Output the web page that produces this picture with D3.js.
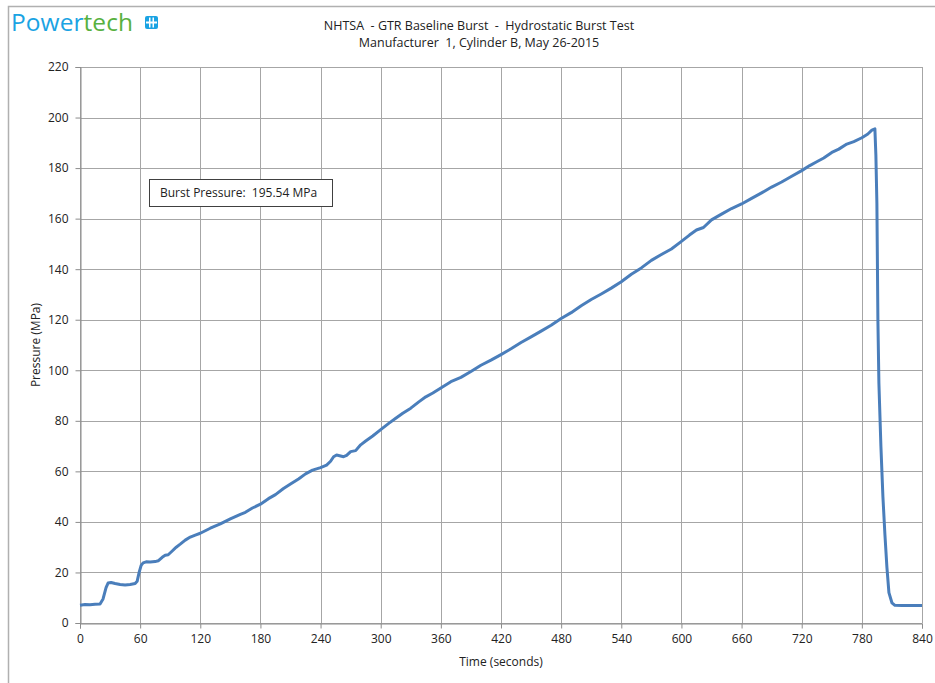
<!DOCTYPE html>
<html><head><meta charset="utf-8">
<script src="https://cdn.jsdelivr.net/npm/d3@7"></script>
<style>body{margin:0;background:#fff}svg{display:block}text{white-space:pre}</style>
</head><body>
<script>
const titleLines = ["NHTSA  - GTR Baseline Burst  -  Hydrostatic Burst Test", "Manufacturer  1, Cylinder B, May 26-2015"];
const xTicks = [0,60,120,180,240,300,360,420,480,540,600,660,720,780,840];
const yTicks = [0,20,40,60,80,100,120,140,160,180,200,220];
const annotation = "Burst Pressure:  195.54 MPa";
const timeS = [0,5,10,15,20,23,26,28,31,35,40,45,50,55,57,59,61,63,66,70,75,78,82,85,88,92,96,100,105,110,115,120,130,140,150,160,165,172,180,188,195,203,210,218,225,232,240,246,250,253,256,259,263,266,270,275,280,285,292,300,308,315,322,330,338,345,352,360,370,380,390,400,410,420,430,440,450,460,470,480,490,500,510,520,530,540,550,560,570,580,590,600,608,615,622,630,640,650,660,670,680,690,700,710,720,728,735,742,750,757,765,772,780,786,790,793,794,795,796,797,799,801,803,805,807,810,813,820,830,840];
const pressure = [7.0,7.3,7.2,7.4,7.5,9.5,14.0,15.8,16.0,15.6,15.2,15.0,15.2,15.6,16.5,20.0,22.8,23.8,24.2,24.1,24.3,24.6,26.0,26.8,27.0,28.5,30.0,31.2,32.8,34.0,34.8,35.5,37.5,39.2,41.2,43.0,43.8,45.5,47.0,49.2,50.8,53.2,55.0,57.0,59.0,60.5,61.5,62.5,64.0,65.8,66.5,66.2,65.8,66.3,67.8,68.2,70.5,72.0,74.0,76.5,79.0,81.0,83.0,85.0,87.5,89.5,91.0,93.0,95.5,97.2,99.5,102.0,104.0,106.2,108.5,111.0,113.2,115.5,117.8,120.5,122.8,125.5,128.0,130.2,132.5,135.0,138.0,140.5,143.5,145.8,148.0,151.0,153.5,155.5,156.5,159.5,161.8,164.0,165.8,168.0,170.2,172.5,174.5,176.8,179.0,181.0,182.5,184.0,186.2,187.5,189.5,190.5,192.0,193.5,195.0,195.5,185.0,166.0,120.0,95.0,70.0,50.0,35.0,22.0,12.0,8.0,7.0,6.9,6.9,6.9];

const W = 935, H = 683;
const svg = d3.select("body").append("svg").attr("width", W).attr("height", H)
  .style("font-family", "'Open Sans', 'Noto Sans', sans-serif");

// outer frame
svg.append("path").attr("d", "M8.5,683 V6.5 H935").attr("fill","none").attr("stroke","#b0b0b0").attr("stroke-width",1.5);

// logo
const logo = svg.append("text").attr("x", 11).attr("y", 31).style("font-family","'Open Sans', sans-serif").style("font-size","24.5px").attr("textLength",122);
logo.append("tspan").attr("fill","#1aa3e3").text("Power");
logo.append("tspan").attr("fill","#58b13f").text("tech");
const icon = svg.append("g").attr("transform","translate(145,16)");
icon.append("rect").attr("width",13).attr("height",13).attr("rx",2).attr("fill","#1aa3e3");
icon.append("rect").attr("x",1).attr("y",5.5).attr("width",11).attr("height",2).attr("fill","#fff");
icon.append("rect").attr("x",4).attr("y",1.5).attr("width",1.5).attr("height",10).attr("fill","#fff");
icon.append("rect").attr("x",7.5).attr("y",1.5).attr("width",1.5).attr("height",10).attr("fill","#fff");

// title
svg.selectAll(".title").data(titleLines).enter().append("text")
  .attr("x", 479).attr("y", (d,i)=>30+i*17).attr("text-anchor","middle")
  .style("font-size","12.5px").attr("fill","#222").text(d=>d);

const m = {l:80, r:922, t:67, b:623};
const x = d3.scaleLinear().domain([0,840]).range([m.l, m.r]);
const y = d3.scaleLinear().domain([0,220]).range([m.b, m.t]);

// grid
const g = svg.append("g");
g.selectAll(".vg").data(xTicks).enter().append("line")
  .attr("x1", d=>Math.round(x(d))+0.5).attr("x2", d=>Math.round(x(d))+0.5)
  .attr("y1", m.t).attr("y2", m.b).attr("stroke","#a6a6a6").attr("stroke-width",1);
g.selectAll(".hg").data(yTicks).enter().append("line")
  .attr("y1", d=>Math.round(y(d))+0.5).attr("y2", d=>Math.round(y(d))+0.5)
  .attr("x1", m.l).attr("x2", m.r).attr("stroke","#a6a6a6").attr("stroke-width",1);

// axes
const xAxis = svg.append("g").attr("transform", `translate(0,${Math.round(y(0))+0.5})`)
  .call(d3.axisBottom(x).tickValues(xTicks).tickSize(5).tickPadding(6).tickFormat(d3.format("d")));
const yAxis = svg.append("g").attr("transform", `translate(${Math.round(x(0))+0.5},0)`)
  .call(d3.axisLeft(y).tickValues(yTicks).tickSize(5).tickPadding(7).tickFormat(d3.format("d")));
[xAxis, yAxis].forEach(a=>{
  a.select(".domain").attr("stroke","#8c8c8c");
  a.selectAll(".tick line").attr("stroke","#8c8c8c");
  a.selectAll("text").style("font-size","12px").attr("fill","#222").style("font-family","'Open Sans', 'Noto Sans', sans-serif");
});

// axis titles
svg.append("text").attr("x", 501).attr("y", 666).attr("text-anchor","middle").style("font-size","12px").attr("fill","#222").text("Time (seconds)");
svg.append("text").attr("transform","translate(40,345) rotate(-90)").attr("text-anchor","middle").style("font-size","12px").attr("fill","#222").text("Pressure (MPa)");

// line
const data = timeS.map((t,i)=>({t, p: pressure[i]}));
svg.append("path").datum(data)
  .attr("fill","none").attr("stroke","#4a7ebb").attr("stroke-width",3).attr("stroke-linejoin","round")
  .attr("d", d3.line().x(d=>x(d.t)).y(d=>y(d.p)));

// annotation
svg.append("rect").attr("x",149.5).attr("y",179.5).attr("width",183).attr("height",27).attr("fill","#fff").attr("stroke","#404040").attr("stroke-width",1);
svg.append("text").attr("x",160).attr("y",197).style("font-size","12px").attr("fill","#222").text(annotation);
</script>
</body></html>
